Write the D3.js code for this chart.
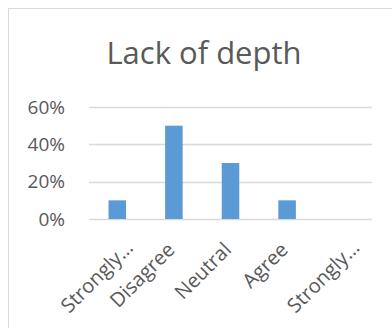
<!DOCTYPE html>
<html>
<head>
<meta charset="utf-8">
<script src="https://cdn.jsdelivr.net/npm/d3@7"></script>
<style>
  body { margin: 0; background: #fff; }
  svg { display: block; font-family: "Open Sans", sans-serif; }
</style>
</head>
<body>
<div class="container"></div>
<script>
// Chart data
const categories = ["Strongly Disagree", "Disagree", "Neutral", "Agree", "Strongly Agree"];
const tickLabels = ["Strongly…", "Disagree", "Neutral", "Agree", "Strongly…"];
const values = [0.10, 0.50, 0.30, 0.10, 0.00];
const yTicks = [0, 0.2, 0.4, 0.6];

const width = 392,
    height = 328,
    margin = { top: 107, right: 20, bottom: 109, left: 89 };

const svg = d3.select(".container")
    .append("svg")
    .attr("width", width)
    .attr("height", height);

// chart area border (runs off the right and bottom of the picture)
svg.append("rect")
    .attr("x", 8.5)
    .attr("y", 8.5)
    .attr("width", 500)
    .attr("height", 500)
    .attr("fill", "#fff")
    .attr("stroke", "#d9d9d9");

svg.append("text")
    .attr("x", 204)
    .attr("y", 64)
    .attr("text-anchor", "middle")
    .attr("fill", "#595959")
    .style("font-size", "31px")
    .text("Lack of depth");

const x = d3.scaleBand()
    .domain(categories)
    .range([margin.left, width - margin.right])
    .paddingInner(0.69)
    .paddingOuter(0.345);

const y = d3.scaleLinear()
    .domain([0, 0.6])
    .range([height - margin.bottom, margin.top]);

// gridlines
svg.append("g")
    .selectAll("line")
    .data(yTicks)
    .enter()
    .append("line")
    .attr("x1", margin.left)
    .attr("x2", width - margin.right)
    .attr("y1", d => Math.round(y(d)) + 0.5)
    .attr("y2", d => Math.round(y(d)) + 0.5)
    .attr("stroke", "#d9d9d9")
    .attr("stroke-width", 1.3);

// y labels
svg.append("g")
    .selectAll("text")
    .data(yTicks)
    .enter()
    .append("text")
    .attr("x", 65)
    .attr("y", d => y(d) + 6.5)
    .attr("text-anchor", "end")
    .attr("fill", "#595959")
    .style("font-size", "19px")
    .text(d => d3.format(".0%")(d));

// bars
svg.append("g")
    .selectAll("rect")
    .data(values)
    .enter()
    .append("rect")
    .attr("x", (d, i) => x(categories[i]))
    .attr("width", x.bandwidth())
    .attr("y", d => y(d))
    .attr("height", d => y(0) - y(d))
    .attr("fill", "#5b9bd5");

// rotated category labels (truncated ones sit a little further right/up)
svg.append("g")
    .selectAll("text")
    .data(categories)
    .enter()
    .append("text")
    .attr("transform", (d, i) => {
        const cut = tickLabels[i].endsWith("…");
        const cx = x(d) + x.bandwidth() / 2 + (cut ? 17 : 2);
        return `translate(${cx},${y(0) + (cut ? 30 : 32)}) rotate(-45)`;
    })
    .attr("text-anchor", "end")
    .attr("fill", "#595959")
    .style("font-size", "20px")
    .text((d, i) => tickLabels[i]);
</script>
</body>
</html>
